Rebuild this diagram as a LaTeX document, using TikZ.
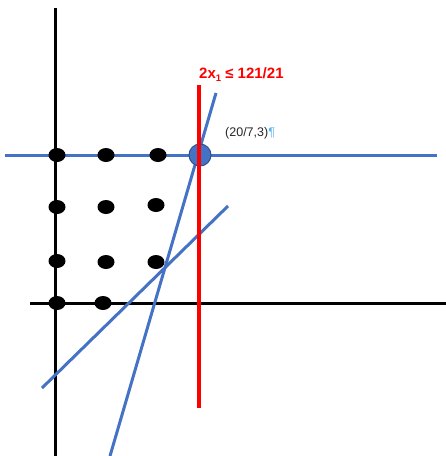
\documentclass[tikz,border=0pt]{standalone}
\usepackage{fontspec}
\setmainfont{Liberation Sans}
\usetikzlibrary{shapes.geometric}
\begin{document}
\definecolor{lblue}{HTML}{4472C4}
\definecolor{dblue}{HTML}{2F528F}
\definecolor{pil}{HTML}{5BB5F0}
\begin{tikzpicture}[x=1pt,y=-1pt,
  axis/.style={line width=3pt,black},
  bline/.style={line width=3pt,lblue},
  rline/.style={line width=4pt,red},
  dot/.style={ellipse,fill=black,minimum width=17pt,minimum height=14pt,inner sep=0pt}]
\useasboundingbox (0,0) rectangle (446,456);
% axes
\coordinate (yt) at (55,8); \coordinate (yb) at (55,456);
\coordinate (xl) at (30,303); \coordinate (xr) at (446,303);
\draw[axis] (yt) -- (yb);
\draw[axis] (xl) -- (xr);
% blue horizontal
\coordinate (hl) at (5,155); \coordinate (hr) at (437,155);
\draw[bline] (hl) -- (hr);
% red vertical
\coordinate (rt) at (199,85); \coordinate (rb) at (199,408);
% blue slanted lines
\coordinate (s1t) at (216,93); \coordinate (s1b) at (110,456);
\coordinate (s2t) at (228,206); \coordinate (s2b) at (42,388);
\draw[bline] (s1t) -- (s1b);
\draw[bline] (s2t) -- (s2b);
% dots
\node[dot] (d1) at (57,155) {};
\node[dot] (d2) at (106,155) {};
\node[dot] (d3) at (158,155) {};
\node[dot] (d4) at (57,207) {};
\node[dot] (d5) at (106,207) {};
\node[dot] (d6) at (156,205) {};
\node[dot] (d7) at (57,261) {};
\node[dot] (d8) at (106,262) {};
\node[dot] (d9) at (156,262) {};
\node[dot] (d10) at (57,303) {};
\node[dot] (d11) at (103,303) {};
% optimum point
\node[circle,fill=lblue,draw=dblue,line width=1pt,minimum size=22pt,inner sep=0pt] (opt) at (200,155) {};
\draw[rline] (rt) -- (rb);
% labels
\node[anchor=base west,inner sep=0pt,text=red,font=\fontsize{15}{18}\selectfont\bfseries] (lab) at (199,78) {2x\raisebox{-0.45ex}{\fontsize{9.5}{10}\selectfont 1} ≤ 121/21};
\node[anchor=base west,inner sep=0pt,font=\fontsize{12.5}{15}\selectfont,text=black!85] (pt) at (225,136) {(20/7,3)\textcolor{pil}{¶}};
\end{tikzpicture}
\end{document}
